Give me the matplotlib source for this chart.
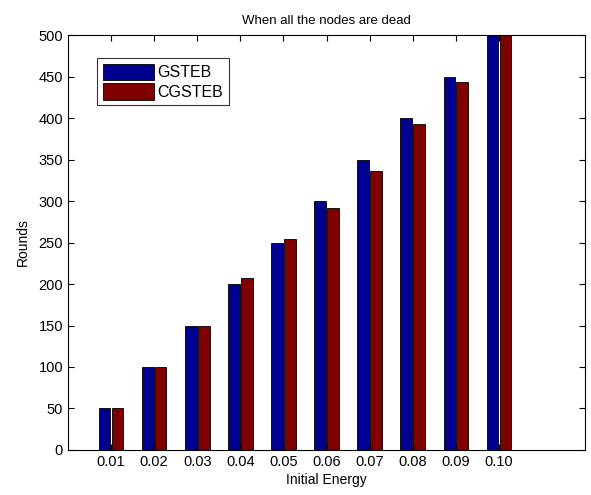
import numpy as np
import matplotlib.pyplot as plt

plt.rcParams['font.family'] = ['Liberation Sans', 'DejaVu Sans']

energy = ['0.01', '0.02', '0.03', '0.04', '0.05', '0.06', '0.07', '0.08', '0.09', '0.10']
gsteb = [50, 100, 150, 200, 250, 300, 350, 400, 450, 500]
cgsteb = [50, 100, 150, 207, 254, 292, 336, 393, 444, 500]

fig = plt.figure(figsize=(5.91, 4.95), dpi=100)
ax = fig.add_axes([0.115, 0.091, 0.875, 0.838])

x = np.arange(1, len(energy) + 1)
w = 0.27
ax.bar(x - 0.15, gsteb, w, color='#000090', edgecolor='black', linewidth=0.6, label='GSTEB')
ax.bar(x + 0.15, cgsteb, w, color='#800000', edgecolor='black', linewidth=0.6, label='CGSTEB')

ax.set_xlim(0, 12)
ax.set_ylim(0, 500)
ax.set_xticks(x)
ax.set_xticklabels(energy)
ax.set_yticks(np.arange(0, 501, 50))
ax.tick_params(direction='in', top=True, right=True, labelsize=10.5, length=4)
for s in ax.spines.values():
    s.set_linewidth(0.8)

ax.set_title('When all the nodes are dead', fontsize=9.5, pad=8)
ax.set_xlabel('Initial Energy', fontsize=10, labelpad=3)
ax.set_ylabel('Rounds', fontsize=10, labelpad=6)

leg = ax.legend(loc='upper left', bbox_to_anchor=(0.056, 0.945), borderaxespad=0,
                fontsize=11.5, frameon=True, fancybox=False, edgecolor='black',
                handlelength=3.2, handleheight=1.2, handletextpad=0.25,
                borderpad=0.35, labelspacing=0.2)
leg.get_frame().set_linewidth(0.8)

fig.savefig('out.png', dpi=100)
